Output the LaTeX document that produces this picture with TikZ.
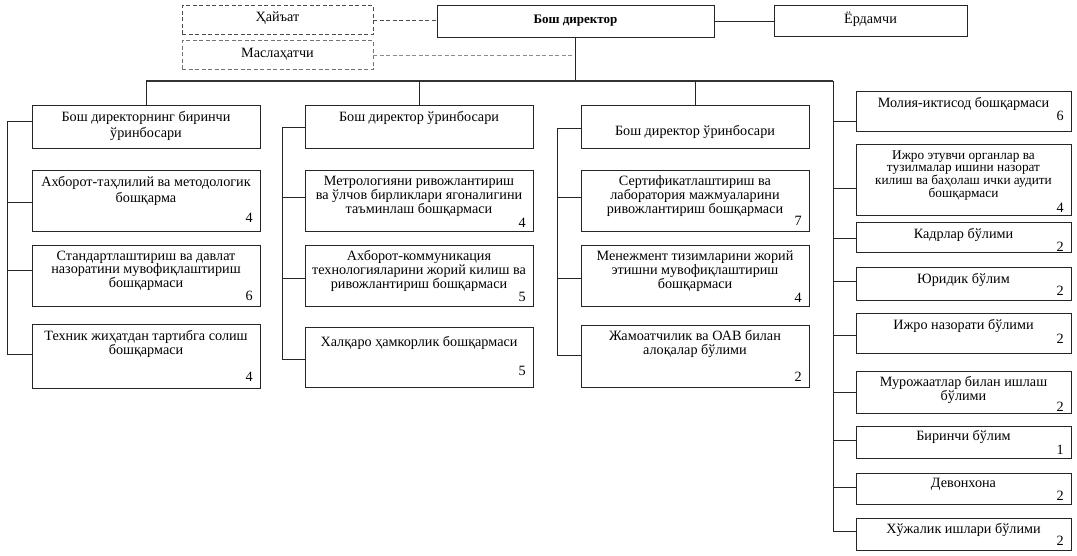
\documentclass[tikz,border=0pt]{standalone}
\usepackage{fontspec}
\setmainfont{Liberation Serif}
\usetikzlibrary{calc}
\newcommand\orgbox[6][box]{\node[#1,anchor=north west,minimum width={#5pt-#3pt},minimum height={#6pt-#4pt}] (#2) at (#3,#4) {};}
\newcommand\fst{\rule{0pt}{10pt}}
\newcommand\bt[4][14.5]{\node[txt,font=\fontsize{14.2}{#1}\selectfont] (t#2) at (#2.north |- 0,#3) {\fst #4};}
\newcommand\bn[3]{\node[num,xshift=-7pt] (n#1) at (#1.east |- 0,#2) {#3};}
\tikzset{
  box/.style={draw=black!85,line width=1pt,inner sep=0pt,outer sep=0pt},
  dbox/.style={draw=black!70,line width=1pt,dash pattern=on 4pt off 2.5pt,inner sep=0pt,outer sep=0pt},
  dboxl/.style={draw=black!55,line width=1pt,dash pattern=on 4pt off 2.5pt,inner sep=0pt,outer sep=0pt},
  txt/.style={anchor=north,yshift=6pt,inner sep=0pt,align=center},
  num/.style={anchor=base east,yshift=-4.5pt,inner sep=0pt,font=\fontsize{14.2}{14}\selectfont},
  conn/.style={line width=1pt,draw=black!85},
  busline/.style={line width=1.5pt,draw=black!80},
  dconn/.style={line width=1pt,draw=black!70,dash pattern=on 4pt off 2.5pt},
  gconn/.style={line width=0.9pt,draw=black!45,dash pattern=on 4pt off 2.5pt}
}
\begin{document}
\begin{tikzpicture}[x=1pt,y=-1pt]
\useasboundingbox[fill=white] (0,0) rectangle (1077,556);
% top row
\orgbox[dbox]{hay}{182}{6}{373}{35}
\orgbox[dboxl]{masl}{182}{41}{373}{70}
\orgbox{dir}{437}{6}{714}{38}
\orgbox{erd}{774}{6}{967}{37}
\node[txt,font=\fontsize{14.2}{14.5}\selectfont] (thay) at (hay.north |- 0,17) {\fst Ҳайъат};
\node[txt,font=\fontsize{14.2}{14.5}\selectfont] (tmasl) at (masl.north |- 0,53) {\fst Маслаҳатчи};
\node[txt,font=\fontsize{13}{14}\selectfont\bfseries] (tdir) at (dir.north |- 0,19) {\fst Бош директор};
\node[anchor=base,yshift=-5pt,inner sep=0pt,font=\fontsize{14.2}{14.5}\selectfont] (terd) at (erd.north |- 0,19) {Ёрдамчи};
\draw[dconn] (hay.east) -- (hay.east -| dir.west);
\draw[gconn] (masl.east) -- (masl.east -| dir.south);
\draw[conn] (dir.east) -- (dir.east -| erd.west);
% column 1
\orgbox{c1a}{32}{106}{260}{149}
\orgbox{c1b}{32}{171}{260}{232}
\orgbox{c1c}{32}{246}{260}{307}
\orgbox{c1d}{32}{324}{260}{388}
\bt[16]{c1a}{117}{Бош директорнинг биринчи\\ўринбосари}
\bt[16]{c1b}{182}{Ахборот-таҳлилий ва методологик\\бошқарма}
\bt[13.5]{c1c}{256}{Стандартлаштириш ва давлат\\назоратини мувофиқлаштириш\\бошқармаси}
\bt[14]{c1d}{336}{Техник жиҳатдан тартибга солиш\\бошқармаси}
\bn{c1b}{218}{4}
\bn{c1c}{296}{6}
\bn{c1d}{377}{4}
% column 2
\orgbox{c2a}{305}{106}{533}{149}
\orgbox{c2b}{305}{171}{533}{232}
\orgbox{c2c}{305}{246}{533}{307}
\orgbox{c2d}{305}{327}{533}{387}
\bt{c2a}{117}{Бош директор ўринбосари}
\bt[14.3]{c2b}{181}{Метрологияни ривожлантириш\\ва ўлчов бирликлари ягоналигини\\таъминлаш бошқармаси}
\bt[14.3]{c2c}{256}{Ахборот-коммуникация\\технологияларини жорий килиш ва\\ривожлантириш бошқармаси}
\bt{c2d}{342}{Халқаро ҳамкорлик бошқармаси}
\bn{c2b}{223}{4}
\bn{c2c}{297}{5}
\bn{c2d}{371}{5}
% column 3
\orgbox{c3a}{581}{106}{809}{149}
\orgbox{c3b}{581}{171}{809}{232}
\orgbox{c3c}{581}{246}{809}{307}
\orgbox{c3d}{581}{325}{809}{387}
\bt{c3a}{131}{Бош директор ўринбосари}
\bt[14.2]{c3b}{181}{Сертификатлаштириш ва\\лаборатория мажмуаларини\\ривожлантириш бошқармаси}
\bt[14]{c3c}{256}{Менежмент тизимларини жорий\\этишни мувофиқлаштириш\\бошқармаси}
\bt[14.3]{c3d}{336}{Жамоатчилик ва ОАВ билан\\алоқалар бўлими}
\bn{c3b}{221}{7}
\bn{c3c}{298}{4}
\bn{c3d}{377}{2}
% column 4
\orgbox{c4a}{856}{92}{1071}{132}
\orgbox{c4b}{856}{145}{1071}{216}
\orgbox{c4c}{856}{223}{1071}{253}
\orgbox{c4d}{856}{268}{1071}{301}
\orgbox{c4e}{856}{314}{1071}{353}
\orgbox{c4f}{856}{371}{1071}{413}
\orgbox{c4g}{856}{426}{1071}{458}
\orgbox{c4h}{856}{473}{1071}{504}
\orgbox{c4i}{856}{518}{1071}{550}
\bt{c4a}{103}{Молия-иктисод бошқармаси}
\node[txt,font=\fontsize{13.3}{12}\selectfont] (tc4b) at (c4b.north |- 0,155) {\fst Ижро этувчи органлар ва\\тузилмалар ишини назорат\\килиш ва баҳолаш ички аудити\\бошқармаси};
\bt{c4c}{234}{Кадрлар бўлими}
\bt{c4d}{279}{Юридик бўлим}
\bt{c4e}{325}{Ижро назорати бўлими}
\bt[12.5]{c4f}{382}{Мурожаатлар билан ишлаш\\бўлими}
\bt{c4g}{436}{Биринчи бўлим}
\bt{c4h}{483}{Девонхона}
\bt{c4i}{529}{Хўжалик ишлари бўлими}
\bn{c4a}{116}{6}
\bn{c4b}{208}{4}
\bn{c4c}{247}{2}
\bn{c4d}{291}{2}
\bn{c4e}{339}{2}
\bn{c4f}{407}{2}
\bn{c4g}{450}{1}
\bn{c4h}{496}{2}
\bn{c4i}{541}{2}
% bus and spines
\coordinate (bus) at (0,81);
\coordinate (s1) at (7,0);
\coordinate (s2) at (282,0);
\coordinate (s3) at (557,0);
\coordinate (s4top) at (833,81);
\coordinate (s4end) at (833,531);
\draw[conn] (dir.south) -- (dir.south |- bus);
\draw[busline] (c1a.north |- bus) -- (s4top);
\draw[conn] (c1a.north) -- (c1a.north |- bus);
\draw[conn] (c2a.north) -- (c2a.north |- bus);
\draw[conn] (c3a.north) -- (c3a.north |- bus);
\draw[conn] (s4top) -- (s4end);
\draw[conn] (s1 |- 0,122) -- (s1 |- 0,354);
\draw[conn] (s2 |- 0,128) -- (s2 |- 0,359);
\draw[conn] (s3 |- 0,129) -- (s3 |- 0,355);
\foreach \n/\y in {c1a/122,c1b/203,c1c/271,c1d/354}
  \draw[conn] (s1 |- 0,\y) -- (\n.west |- 0,\y);
\foreach \n/\y in {c2a/128,c2b/198,c2c/279,c2d/359}
  \draw[conn] (s2 |- 0,\y) -- (\n.west |- 0,\y);
\foreach \n/\y in {c3a/129,c3b/198,c3c/279,c3d/355}
  \draw[conn] (s3 |- 0,\y) -- (\n.west |- 0,\y);
\foreach \n/\y in {c4a/122,c4b/189,c4c/239,c4d/282,c4e/335,c4f/392,c4g/440,c4h/487,c4i/531}
  \draw[conn] (s4top |- 0,\y) -- (\n.west |- 0,\y);
\end{tikzpicture}
\end{document}
